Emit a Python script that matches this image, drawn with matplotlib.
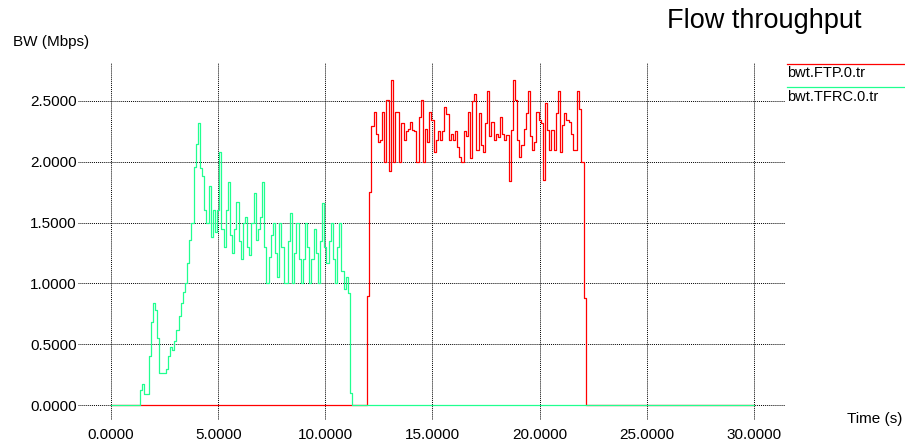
import numpy as np
import matplotlib
matplotlib.use('Agg')
import matplotlib.pyplot as plt
from matplotlib.lines import Line2D

plt.rcParams['font.family'] = 'Liberation Sans'

# bandwidth traces, sampled every 0.1 s (Mbps)
sample_dt = 0.1
t_end = 30.0

ftp_start = 11.9
ftp_bw = [0.00, 0.90, 1.75, 2.29, 2.41, 2.23, 2.16, 2.18, 2.41, 2.00,
          2.51, 1.92, 2.67, 2.00, 2.41, 2.41, 2.00, 2.32, 2.18, 2.25,
          2.27, 2.33, 2.26, 2.25, 2.00, 2.37, 2.51, 2.00, 2.27, 2.16,
          2.41, 2.34, 2.08, 2.18, 2.25, 2.18, 2.25, 2.45, 2.39, 2.18,
          2.23, 2.18, 2.25, 2.12, 2.04, 2.00, 2.25, 2.21, 2.41, 2.03,
          2.50, 2.56, 2.10, 2.40, 2.14, 2.08, 2.32, 2.58, 2.21, 2.33,
          2.18, 2.23, 2.20, 2.37, 2.23, 2.18, 2.22, 1.84, 2.26, 2.67,
          2.51, 2.18, 2.04, 2.14, 2.27, 2.40, 2.58, 2.21, 2.10, 2.16,
          2.41, 2.34, 2.32, 1.85, 2.48, 2.26, 2.10, 2.26, 2.10, 2.40,
          2.58, 2.08, 2.30, 2.40, 2.34, 2.33, 2.23, 2.10, 2.10, 2.58,
          2.43, 2.00, 0.88, 0.00]

tfrc_start = 1.3
tfrc_bw = [0.00, 0.12, 0.17, 0.09, 0.09, 0.40, 0.68, 0.84, 0.78, 0.55,
           0.26, 0.26, 0.26, 0.30, 0.40, 0.48, 0.45, 0.53, 0.62, 0.73,
           0.84, 0.93, 1.00, 1.17, 1.36, 1.50, 1.96, 2.15, 2.32, 1.95,
           1.88, 1.60, 1.50, 1.80, 1.38, 1.60, 1.42, 1.60, 2.08, 1.45,
           1.30, 1.60, 1.83, 1.40, 1.25, 1.45, 1.67, 1.35, 1.20, 1.50,
           1.55, 1.30, 1.23, 1.50, 1.74, 1.36, 1.45, 1.55, 1.83, 1.30,
           1.00, 1.22, 1.40, 1.50, 1.25, 1.05, 1.50, 1.30, 1.00, 1.00,
           1.35, 1.58, 1.00, 1.25, 1.50, 1.20, 1.00, 1.20, 1.50, 1.30,
           1.00, 1.20, 1.45, 1.25, 1.00, 1.35, 1.66, 1.30, 1.17, 1.35,
           1.50, 1.20, 1.00, 1.30, 1.50, 1.10, 0.95, 1.05, 0.92, 0.10,
           0.00]

xticks = [0, 5, 10, 15, 20, 25, 30]
yticks = [0.0, 0.5, 1.0, 1.5, 2.0, 2.5]


def full_trace(start, values):
    # pad a trace with zeros over the whole 0..30 s run
    n = int(round(t_end / sample_dt)) + 1
    out = np.zeros(n)
    i0 = int(round(start / sample_dt))
    out[i0:i0 + len(values)] = values
    return out


time = np.round(np.arange(int(round(t_end / sample_dt)) + 1) * sample_dt, 1)
ftp = full_trace(ftp_start, ftp_bw)
tfrc = full_trace(tfrc_start, tfrc_bw)

W, H = 905, 445
fig = plt.figure(figsize=(W / 100, H / 100), dpi=100)
ax = fig.add_axes([78 / W, 25 / H, 707 / W, 357 / H])

ax.plot(time, ftp, color='#ff0000', lw=0.9, drawstyle='steps-mid')
ax.plot(time, tfrc, color='#20ff90', lw=0.9, drawstyle='steps-mid')

ax.set_xlim(-1.54, 31.45)
ax.set_ylim(-0.123, 2.812)
for s in ax.spines.values():
    s.set_visible(False)
ax.set_xticks(xticks)
ax.set_yticks(yticks)
ax.set_xticklabels(['%.4f' % v for v in xticks])
ax.set_yticklabels(['%.4f' % v for v in yticks])
ax.tick_params(axis='both', length=0, labelsize=11)
ax.tick_params(axis='x', pad=6)
ax.tick_params(axis='y', pad=1)
ax.grid(True, color='black', linestyle=(0, (1, 1)), lw=0.7)
ax.set_axisbelow(True)

# axis captions and title
fig.text(13 / W, 1 - 42 / H, 'BW (Mbps)', fontsize=11, va='center', ha='left')
fig.text(847 / W, 1 - 419 / H, 'Time (s)', fontsize=11, va='center', ha='left')
fig.text(764 / W, 1 - 28 / H, 'Flow throughput', fontsize=19.5,
         va='baseline', ha='center')

# legend in the top-right corner
fig.add_artist(Line2D([787 / W, 1], [1 - 64 / H] * 2, color='#ff0000', lw=0.9))
fig.text(787 / W, 1 - 73 / H, 'bwt.FTP.0.tr', fontsize=10.5, va='center')
fig.add_artist(Line2D([787 / W, 1], [1 - 87 / H] * 2, color='#20ff90', lw=0.9))
fig.text(787 / W, 1 - 97 / H, 'bwt.TFRC.0.tr', fontsize=10.5, va='center')

fig.savefig('out.png', dpi=100)
